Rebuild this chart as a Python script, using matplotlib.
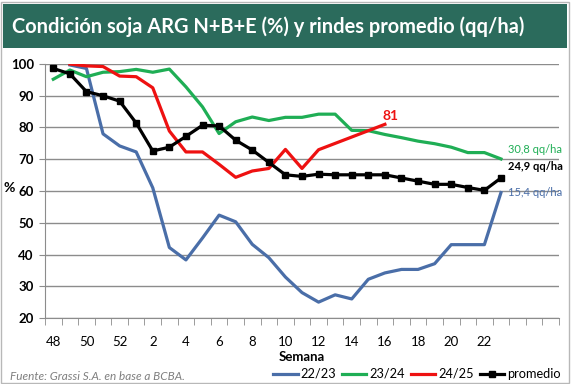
import matplotlib
matplotlib.use("Agg")
import matplotlib.pyplot as plt
from matplotlib.lines import Line2D
from matplotlib.patches import Rectangle
import numpy as np

plt.rcParams['font.family'] = ['Lato', 'DejaVu Sans']

weeks = ["48", "49", "50", "51", "52"] + [str(i) for i in range(1, 24)] + ["", "", ""]
tick_labels = ["48", "50", "52", "2", "4", "6", "8", "10", "12", "14", "16", "18", "20", "22"]

s2223 = [None, 99.7, 98.6, 78, 74.2, 72.3, 61, 42.2, 38.3, 45.2, 52.4, 50.3, 43.2, 39, 32.9, 28, 25,
         27.3, 26, 32.2, 34.2, 35.3, 35.3, 37.1, 43.1, 43.1, 43.1, 59.5]
s2324 = [95.2, 98.1, 96, 97.4, 97.6, 98.3, 97.4, 98.4, 92.8, 86.5, 78.1, 81.8, 83.3, 82.2, 83.2, 83.2,
         84.2, 84.2, 79.1, 79, 77.8, 76.8, 75.7, 74.9, 73.8, 72.1, 72.1, 70.1]
s2425 = [None, 100, 99.4, 99.2, 96.2, 96, 92.5, 78.9, 72.3, 72.3, 68.4, 64.3, 66.3, 67.1, 73.1, 67.1,
         73, 75, 77, 79, 81]
promedio = [98.6, 96.9, 91.3, 90, 88.3, 81.4, 72.6, 73.8, 77.2, 80.7, 80.5, 76, 72.9, 69, 65.1, 64.6,
            65.3, 65.1, 65.1, 65.1, 65.1, 64.1, 63.1, 62.1, 62.1, 61.1, 60.2, 64.1]

C_BLUE = "#4a6ea8"
C_GREEN = "#1fae55"
C_RED = "#ee1111"
C_BLACK = "#000000"

W, H = 571, 384
fig = plt.figure(figsize=(W / 100, H / 100), dpi=100)
fig.patch.set_facecolor("white")

# outer border
fig.add_artist(Rectangle((1 / W, 1 / H), (W - 3) / W, (H - 3) / H, transform=fig.transFigure,
                         fill=False, edgecolor="#b8b8b8", linewidth=1))
# title banner
fig.add_artist(Rectangle((3 / W, 1 - 48 / H), 564 / W, 44 / H, transform=fig.transFigure,
                         facecolor="#2b6b5c", edgecolor="none"))
fig.text(12 / W, 1 - 27 / H, "Condición soja ARG N+B+E (%) y rindes promedio (qq/ha)",
         color="white", fontsize=14.4, fontweight="bold", va="center", ha="left")

# leaf icon
icx, icy = 542, 27
ax_icon = fig.add_axes([(icx - 16) / W, 1 - (icy + 16) / H, 32 / W, 32 / H])
ax_icon.set_xlim(-1, 1); ax_icon.set_ylim(-1, 1); ax_icon.set_aspect("equal"); ax_icon.axis("off")
leaf_c = "#5bbf63"
th = np.linspace(0.0, 1.5 * np.pi, 100) + 0.5 * np.pi
r = 0.72
xs = list(r * np.cos(th)) + [0.8, 0.72, 0.0]
ys = list(r * np.sin(th)) + [0.0, 0.72, 0.72]
ax_icon.plot(xs, ys, color=leaf_c, lw=1.8, solid_joinstyle="round")
th2 = np.linspace(0.1 * np.pi, 1.9 * np.pi, 80)
r2 = 0.40
ax_icon.plot(list(r2 * np.cos(th2)) + [0.45], list(r2 * np.sin(th2)) + [0.05], color=leaf_c, lw=1.6)

ax = fig.add_axes([45 / W, 1 - 318 / H, (559 - 45) / W, (318 - 64) / H])
n = len(weeks)
x = np.arange(n)

def arr(v):
    return np.array([np.nan if a is None else a for a in v], dtype=float)

ax.plot(x[:len(s2223)], arr(s2223), color=C_BLUE, lw=2.3, zorder=3)
ax.plot(x[:len(s2324)], arr(s2324), color=C_GREEN, lw=2.3, zorder=3)
ax.plot(x[:len(s2425)], arr(s2425), color=C_RED, lw=2.3, zorder=4)
ax.plot(x[:len(promedio)], arr(promedio), color=C_BLACK, lw=2.3, marker="s", markersize=5, zorder=5)

ax.set_xlim(-0.5, n - 0.5)
ax.set_ylim(20, 100)
ax.set_yticks(range(20, 101, 10))
ax.yaxis.grid(True, color="#8c8c8c", linewidth=1)
ax.set_axisbelow(True)
for s in ["top", "right"]:
    ax.spines[s].set_visible(False)
ax.spines["left"].set_color("#8c8c8c")
ax.spines["bottom"].set_color("#8c8c8c")
ax.tick_params(axis="y", length=4, color="#8c8c8c", labelsize=9.5, pad=4)
for lab in ax.get_yticklabels():
    lab.set_fontweight("bold")

label_pos = [weeks.index(t) for t in tick_labels]
ax.set_xticks(label_pos)
ax.set_xticklabels(tick_labels, fontsize=9.5)
ax.tick_params(axis="x", length=0, pad=13)
ax.set_xticks(np.arange(-0.5, n, 1), minor=True)
ax.tick_params(axis="x", which="minor", length=5, color="#8c8c8c")
ax.set_xlabel("Semana", fontsize=9.5, fontweight="bold", labelpad=2)

fig.text(4 / W, 1 - 188 / H, "%", fontsize=10, fontweight="bold", va="center", ha="left")

# end labels
ax.annotate("81", (20, 81), xytext=(-2, 2), textcoords="offset points", color=C_RED,
            fontsize=10, fontweight="bold", ha="left", va="bottom")
ax.annotate("30,8 qq/ha", (27, s2324[27]), xytext=(5, 3), textcoords="offset points", color=C_GREEN,
            fontsize=8, ha="left", va="bottom")
ax.annotate("24,9 qq/ha", (27, promedio[27]), xytext=(5, 4), textcoords="offset points", color=C_BLACK,
            fontsize=8, fontweight="bold", ha="left", va="bottom")
ax.annotate("15,4 qq/ha", (27, s2223[27]), xytext=(5, 0), textcoords="offset points", color=C_BLUE,
            fontsize=8, ha="left", va="center")

fig.text(10 / W, 1 - 376 / H, "Fuente: Grassi S.A. en base a BCBA.", fontsize=8.5, style="italic",
         color="#7f7f7f", va="center", ha="left")

handles = [Line2D([], [], color=C_BLUE, lw=2.3),
           Line2D([], [], color=C_GREEN, lw=2.3),
           Line2D([], [], color=C_RED, lw=2.3),
           Line2D([], [], color=C_BLACK, lw=2.3, marker="s", markersize=5)]
fig.legend(handles, ["22/23", "23/24", "24/25", "promedio"], ncol=4, frameon=False,
           loc="center right", bbox_to_anchor=(567 / W, 1 - 374 / H), fontsize=9.2,
           handlelength=1.9, handletextpad=0.25, columnspacing=0.45, borderpad=0.0)

fig.savefig("out.png", dpi=100)
